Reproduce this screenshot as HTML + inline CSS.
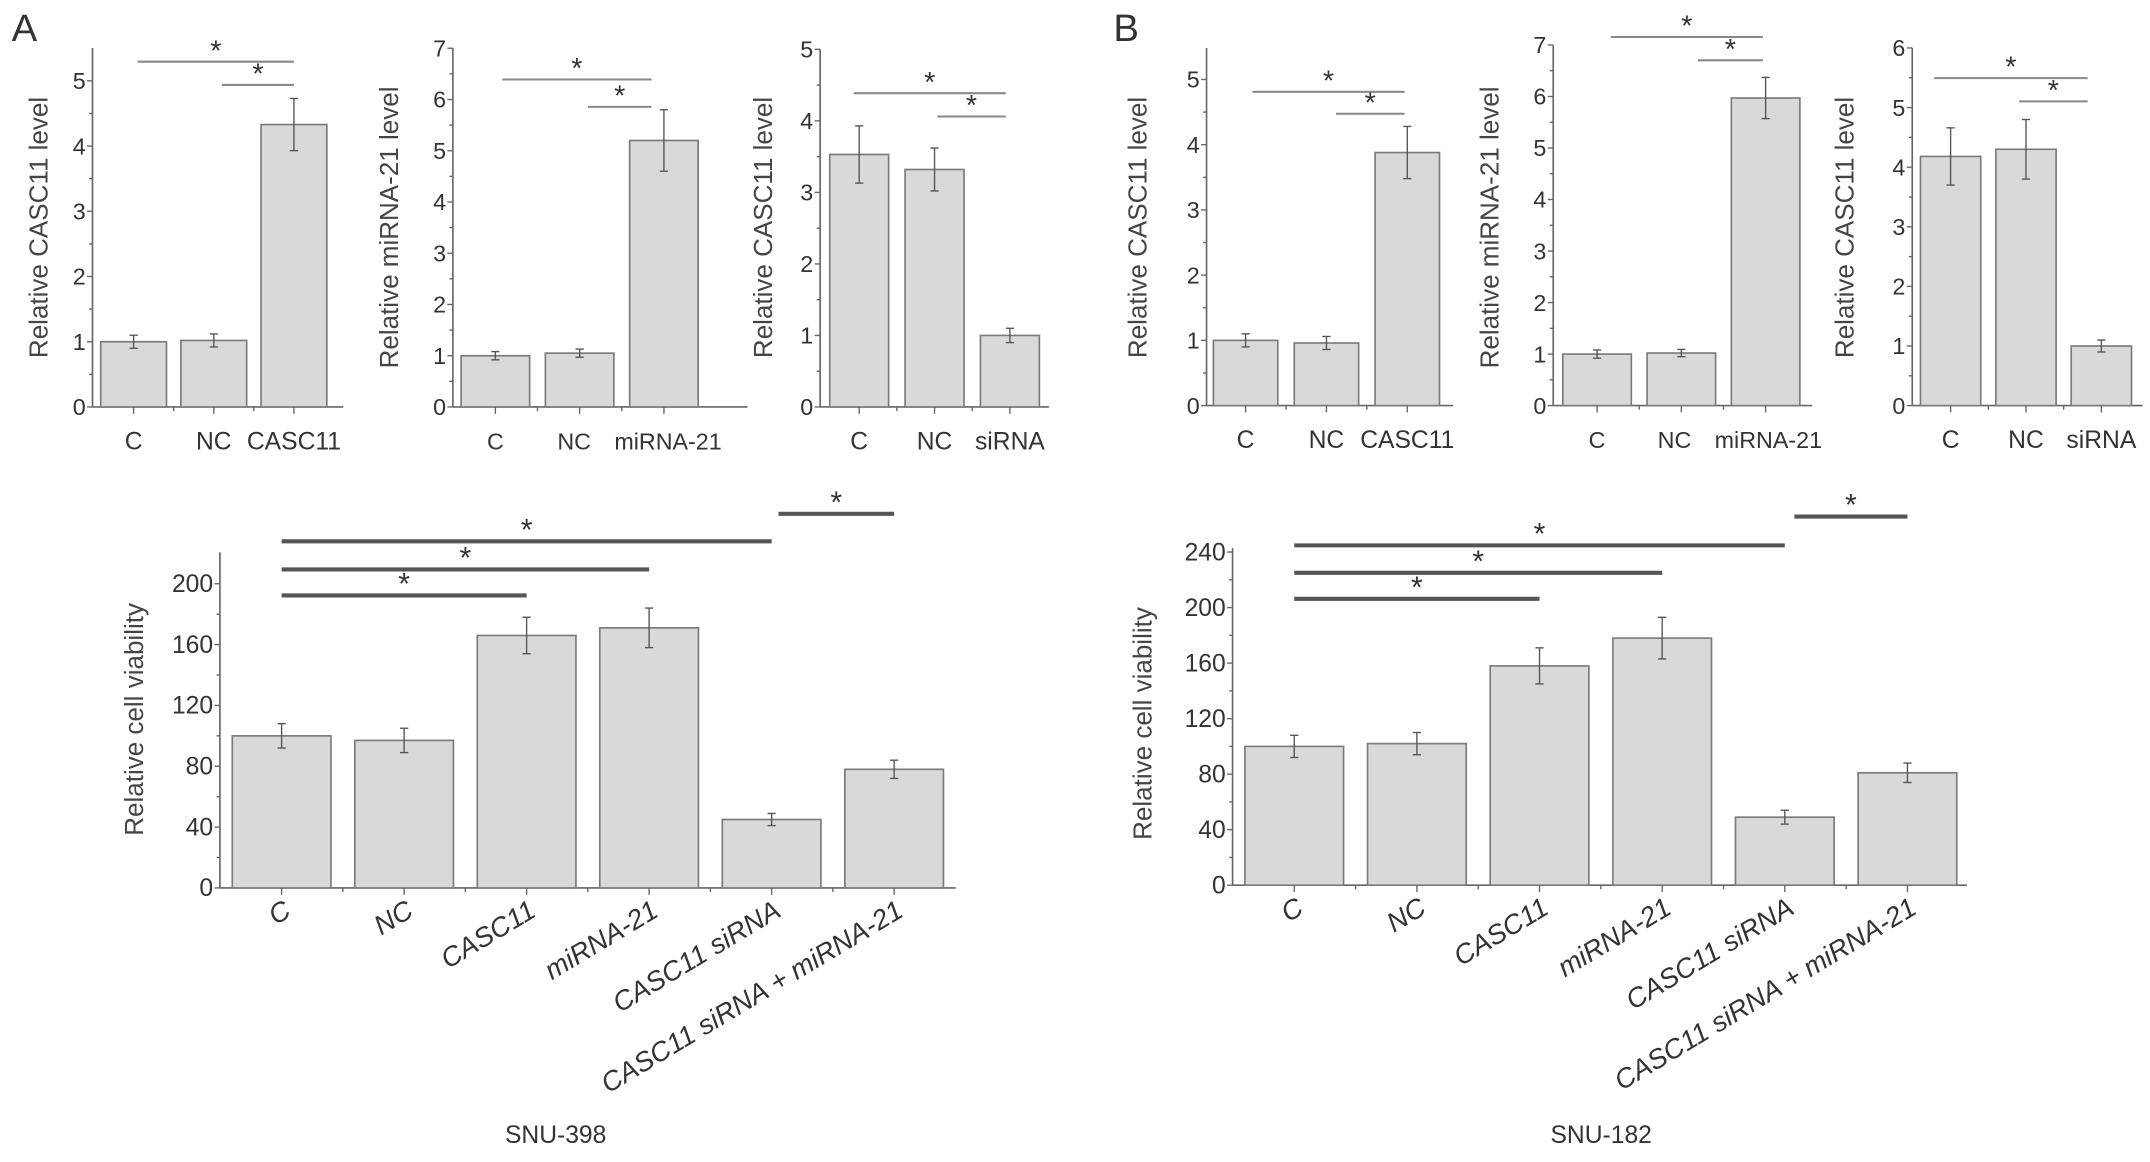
<!DOCTYPE html>
<html><head><meta charset="utf-8">
<style>
html,body{margin:0;padding:0;background:#fff;}
svg{display:block;}
text{font-family:"Liberation Sans Narrow","Liberation Sans",sans-serif;fill:#333;}
.yl{font-family:"Liberation Sans",sans-serif;fill:#444;}
</style></head>
<body>
<svg id="fig" width="2150" height="1162" viewBox="0 0 1568 848" xmlns="http://www.w3.org/2000/svg">
<text x="8" y="30" font-size="28" font-family="Liberation Sans, sans-serif">A</text>
<text x="812" y="30" font-size="28" font-family="Liberation Sans, sans-serif">B</text>
<text x="405" y="834" font-size="18" text-anchor="middle">SNU-398</text>
<text x="1168" y="834" font-size="18" text-anchor="middle">SNU-182</text>
</svg>
<script>
// ---- data ----
const smallCatsA1 = ["C","NC","CASC11"];
const smallValsA1 = [1.0, 1.02, 4.33];
const smallErrA1  = [0.1, 0.1, 0.4];
const smallCatsA2 = ["C","NC","miRNA-21"];
const smallValsA2 = [1.0, 1.05, 5.2];
const smallErrA2  = [0.08, 0.08, 0.6];
const smallCatsA3 = ["C","NC","siRNA"];
const smallValsA3 = [3.53, 3.32, 1.0];
const smallErrA3  = [0.4, 0.3, 0.1];
const smallCatsB1 = ["C","NC","CASC11"];
const smallValsB1 = [1.0, 0.96, 3.88];
const smallErrB1  = [0.1, 0.1, 0.4];
const smallCatsB2 = ["C","NC","miRNA-21"];
const smallValsB2 = [1.0, 1.02, 5.97];
const smallErrB2  = [0.08, 0.07, 0.4];
const smallCatsB3 = ["C","NC","siRNA"];
const smallValsB3 = [4.18, 4.3, 1.0];
const smallErrB3  = [0.48, 0.5, 0.1];
const viabCats = ["C","NC","CASC11","miRNA-21","CASC11 siRNA","CASC11 siRNA + miRNA-21"];
const viabValsA = [100, 97, 166, 171, 45, 78];
const viabErrA  = [8, 8, 12, 13, 4, 6];
const viabValsB = [100, 102, 158, 178, 49, 81];
const viabErrB  = [8, 8, 13, 15, 5, 7];
const ticksA1 = [0,1,2,3,4,5];
const ticksA2 = [0,1,2,3,4,5,6,7];
const ticksA3 = [0,1,2,3,4,5];
const ticksB1 = [0,1,2,3,4,5];
const ticksB2 = [0,1,2,3,4,5,6,7];
const ticksB3 = [0,1,2,3,4,5,6];
const ticksViabA = [0,40,80,120,160,200];
const ticksViabB = [0,40,80,120,160,200,240];

const svg = document.getElementById('fig');
const NS = "http://www.w3.org/2000/svg";
function mk(tag, attrs){const e=document.createElementNS(NS,tag);for(const k in attrs)e.setAttribute(k,attrs[k]);svg.appendChild(e);return e;}

function chart(o, cats, vals, errs, ticks, id){
  const y = v => o.y0 - (v - 0) * o.unit;
  const ax = mk('line',{x1:o.ax,y1:o.y0,x2:o.ax,y2:o.top,stroke:'#666','stroke-width':1.2});
  
  
  const xx = mk('line',{x1:o.ax,y1:o.y0,x2:o.end,y2:o.y0,stroke:'#666','stroke-width':1.2});
  
  
  for(let i=0;i<ticks.length;i++){
    const t=ticks[i];
    mk('line',{x1:o.ax-4,y1:y(t),x2:o.ax,y2:y(t),stroke:'#666','stroke-width':1});
    const tl = mk('text',{x:o.ax-5,y:y(t)+6,'font-size':o.tf,'text-anchor':'end'});
    tl.textContent=t;
    
    
    if(i<ticks.length-1){const m=(t+ticks[i+1])/2;mk('line',{x1:o.ax-2.5,y1:y(m),x2:o.ax,y2:y(m),stroke:'#666','stroke-width':1});}
  }
  const yt = mk('text',{class:'yl',x:0,y:0,'text-anchor':'middle',transform:`translate(${o.ylx},${o.yly}) rotate(-90)`,'font-size':o.ylf});
  yt.textContent=o.ylabel;
  
  
  const centers=[];
  for(let i=0;i<cats.length;i++){
    const x0=o.b0+i*o.step, cx=x0+o.bw/2; centers.push(cx);
    const r=mk('rect',{x:x0,y:y(vals[i]),width:o.bw,height:o.y0-y(vals[i]),fill:'#d9d9d9',stroke:'#7a7a7a','stroke-width':1.2});
    
    
    const e1=y(vals[i]+errs[i]), e2=y(vals[i]-errs[i]);
    mk('line',{x1:cx,y1:e1,x2:cx,y2:e2,stroke:'#555','stroke-width':1});
    mk('line',{x1:cx-3,y1:e1,x2:cx+3,y2:e1,stroke:'#555','stroke-width':1});
    mk('line',{x1:cx-3,y1:e2,x2:cx+3,y2:e2,stroke:'#555','stroke-width':1});
    mk('line',{x1:cx,y1:o.y0,x2:cx,y2:o.y0+5,stroke:'#666','stroke-width':1});
    if(i>0){const bx=o.b0+i*o.step-(o.step-o.bw)/2;mk('line',{x1:bx,y1:o.y0,x2:bx,y2:o.y0+3,stroke:'#666','stroke-width':1});}
    let lab;
    if(o.rot){
      lab=mk('text',{x:0,y:0,'font-size':o.xf,'text-anchor':'end','font-style':'italic',transform:`translate(${cx+8},${o.y0+20}) rotate(-31)`});
    } else {
      lab=mk('text',{x:cx+(o.xoff?o.xoff[i]:0),y:o.y0+31,'font-size':o.xf,'text-anchor':'middle'});
    }
    lab.textContent=cats[i];
    
    
  }
  for(const s of o.sig){
    const l=mk('line',{x1:centers[s[0]]+(s[3]||0),y1:s[2],x2:centers[s[1]]-(s[4]||0),y2:s[2],stroke:o.rot?'#555':'#888','stroke-width':o.rot?3:1.5});
    
    
    const st=mk('text',{x:(centers[s[0]]+(s[3]||0)+centers[s[1]]-(s[4]||0))/2,y:s[2]-1,'font-size':o.rot?22:21,'text-anchor':'middle'});
    st.textContent='*';
    
    
  }
}
const base={tf:17,xf:18,ylf:19,rot:false};
chart({...base,ax:67,end:250,y0:297,unit:47.6,top:35,b0:73,bw:48,step:58.5,ylx:34,yly:166,ylabel:'Relative CASC11 level',sig:[[0,2,45,3,0],[1,2,62,6,0]]},smallCatsA1,smallValsA1,smallErrA1,ticksA1,'a-casc11');
chart({...base,xf:17,ax:330,end:545,y0:297,unit:37.4,top:35,b0:336,bw:50,step:61.5,xoff:[0,-4,3],ylx:290,yly:166,ylabel:'Relative miRNA-21 level',sig:[[0,2,58,5,9],[1,2,78,6,9]]},smallCatsA2,smallValsA2,smallErrA2,ticksA2,'a-mirna21');
chart({...base,ax:598,end:765,y0:297,unit:52.2,top:36,b0:605,bw:43,step:55,ylx:563,yly:166,ylabel:'Relative CASC11 level',sig:[[0,2,68,-4,3],[1,2,85,2,3]]},smallCatsA3,smallValsA3,smallErrA3,ticksA3,'a-sirna');
chart({...base,ax:880,end:1060,y0:296,unit:47.6,top:35,b0:885,bw:47,step:59,ylx:836,yly:166,ylabel:'Relative CASC11 level',sig:[[0,2,67,5,2],[1,2,83,7,2]]},smallCatsB1,smallValsB1,smallErrB1,ticksB1,'b-casc11');
chart({...base,xf:17,ax:1133,end:1322,y0:296,unit:37.6,top:33,b0:1140,bw:50,step:61.5,xoff:[0,-5,2],ylx:1093,yly:166,ylabel:'Relative miRNA-21 level',sig:[[0,2,27,10,2],[1,2,44,12,2]]},smallCatsB2,smallValsB2,smallErrB2,ticksB2,'b-mirna21');
chart({...base,ax:1395,end:1563,y0:296,unit:43.5,top:35,b0:1401,bw:44,step:55,ylx:1352,yly:166,ylabel:'Relative CASC11 level',sig:[[0,2,57,-12,10],[1,2,74,-5,10]]},smallCatsB3,smallValsB3,smallErrB3,ticksB3,'b-sirna');
chart({...base,rot:true,tf:18,xf:20,ax:160,end:697,y0:648,unit:1.11,top:403,b0:169,bw:72,step:89.4,ylx:104,yly:525,ylabel:'Relative cell viability',sig:[[0,4,395,0,0],[0,3,415.6,0,0],[0,2,434.5,0,0],[4,5,375,5,0]]},viabCats,viabValsA,viabErrA,ticksViabA,'a-viability');
chart({...base,rot:true,tf:18,xf:20,ax:899,end:1435,y0:646,unit:1.013,top:400,b0:908,bw:72,step:89.5,ylx:840,yly:528,ylabel:'Relative cell viability',sig:[[0,4,398,0,0],[0,3,418,0,0],[0,2,437,0,0],[4,5,377,7,0]]},viabCats,viabValsB,viabErrB,ticksViabB,'b-viability');
</script>
</body></html>
